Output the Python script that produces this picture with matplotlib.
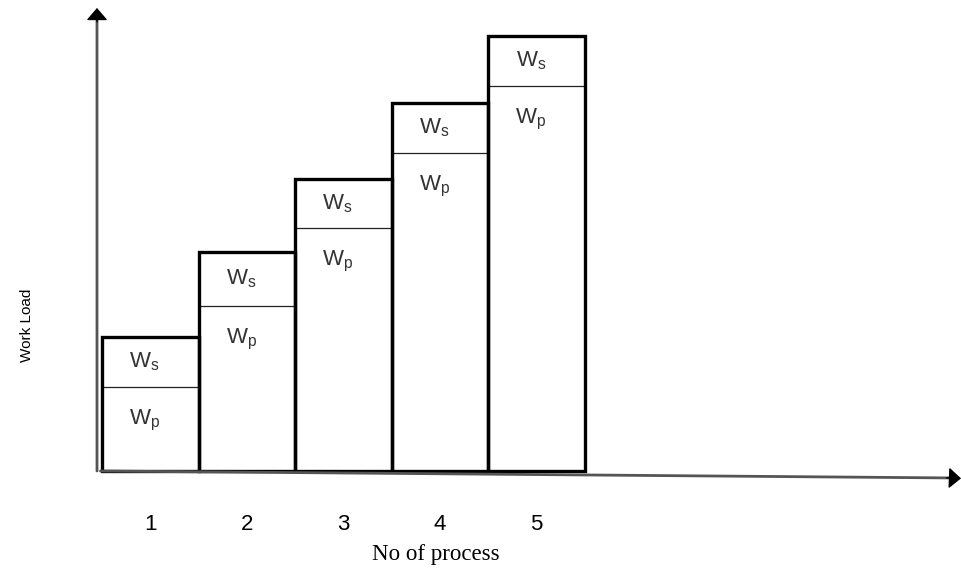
import matplotlib
matplotlib.use("Agg")
import matplotlib.pyplot as plt

plt.rcParams.update(
    {
        "font.family": ["Liberation Sans", "DejaVu Sans"],
        "mathtext.default": "regular",
    }
)

# data (arbitrary work units)
processes = [1, 2, 3, 4, 5]
tick_labels = ["1", "2", "3", "4", "5"]
wp = [84, 165, 243, 318, 385]  # parallel part
ws = [50, 54, 49, 50, 50]  # serial part

fig = plt.figure(figsize=(9.61, 5.69), dpi=100)
ax = fig.add_axes([97 / 961, 98 / 569, 858 / 961, 463 / 569])
ax.set_xlim(0.448, 9.33)
ax.set_ylim(0, 463)

totals = [p + s for p, s in zip(wp, ws)]
bars = ax.bar(processes, totals, width=1.0, fill=False, edgecolor="black",
              linewidth=2.4, zorder=3)
for b in bars:
    b.set_clip_on(False)
for x, p, s in zip(processes, wp, ws):
    ax.hlines(p, x - 0.5, x + 0.5, color="#222222", linewidth=0.9, zorder=2)
    ax.text(x - 0.06, p + s / 2, r"W$_s$", ha="center", va="center",
            fontsize=16, color="#333333")
    ax.text(x - 0.06, p - 33, r"W$_p$", ha="center", va="center",
            fontsize=16, color="#333333")

# axes drawn as arrows: grey shafts, black heads
for sp in ax.spines.values():
    sp.set_visible(False)
shaft = dict(arrowstyle="-", color="#555555", linewidth=2.0, shrinkA=0, shrinkB=0)
head = dict(arrowstyle="-|>,head_length=0.75,head_width=0.65", color="black",
            linewidth=1.0, shrinkA=0, shrinkB=0)
ax.annotate("", xy=(0, 0.985), xytext=(0, 0), xycoords="axes fraction", arrowprops=shaft)
ax.annotate("", xy=(0, 1.0), xytext=(0, 0.97), xycoords="axes fraction", arrowprops=head)
ax.annotate("", xy=(0.995, -0.015), xytext=(0.004, 0), xycoords="axes fraction",
            arrowprops=shaft)
ax.annotate("", xy=(1.007, -0.016), xytext=(0.99, -0.0148), xycoords="axes fraction",
            arrowprops=head)

ax.set_yticks([])
ax.set_xticks(processes)
ax.set_xticklabels(tick_labels, fontsize=16)
ax.tick_params(axis="x", length=0, pad=31)

ax.set_ylabel("Work Load", fontsize=11)
ax.yaxis.set_label_coords(-0.074, 0.315)
ax.set_xlabel("No of process", fontsize=16.5, family="Liberation Serif")
ax.xaxis.set_label_coords(0.395, -0.158)

fig.savefig("out.png", dpi=100)
